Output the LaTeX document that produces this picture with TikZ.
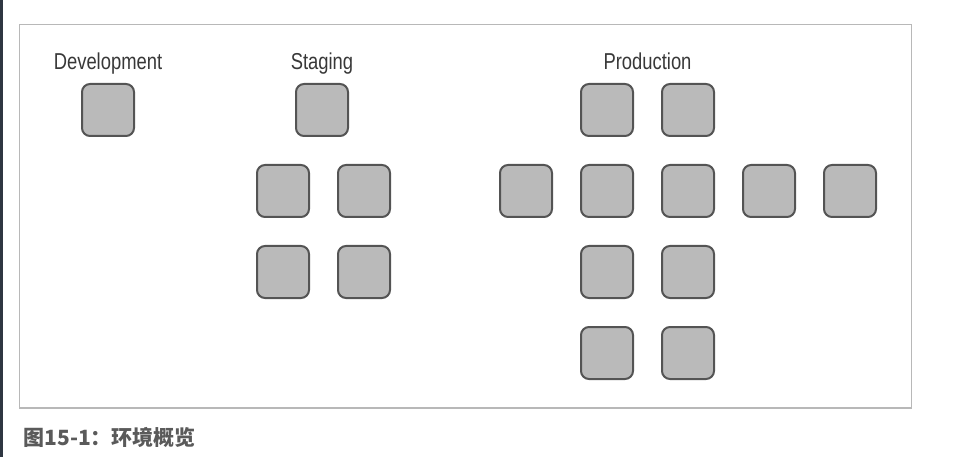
\documentclass[tikz,border=0pt]{standalone}
\usepackage{fontspec}
\setmainfont{Liberation Sans}[FakeStretch=0.8]
\newfontfamily\cjk{Noto Sans CJK SC}
\usepackage{tikz}
\definecolor{boxfill}{HTML}{BABABA}
\definecolor{boxline}{HTML}{545454}
\definecolor{framegray}{HTML}{B8B8B8}
\definecolor{labelgray}{HTML}{383838}
\definecolor{captiongray}{HTML}{5A5A5A}
\definecolor{edgedark}{HTML}{2E3641}
\pgfmathsetmacro{\pitch}{81}

\begin{document}
\begin{tikzpicture}[x=1pt, y=-1pt,
		server/.style={draw=boxline, fill=boxfill, line width=2pt, rounded corners=8pt, minimum size=52pt, inner sep=0pt},
		envlabel/.style={anchor=base, text=labelgray, font=\fontsize{23}{23}\selectfont}]
		\useasboundingbox (0,0) rectangle (964,457);
		\fill[edgedark] (0,0) rectangle (2.5,457);
		\draw[framegray, line width=1.5pt] (19.5,24.5) rectangle (911.5,408);
		\node[envlabel] (devlabel) at (108,70) {Development};
		\node[envlabel] (stglabel) at (322,70) {Staging};
		\node[envlabel] (prodlabel) at (647.5,70) {Production};
		\node[server] (dev) at (108,110) {};
		\node[server] (stg) at (322,110) {};
		\foreach \c in {0,1}
			\foreach \r in {1,2}
				\node[server] (stg-\c-\r) at ({283+\pitch*\c},{110+\pitch*\r}) {};
		\foreach \c in {0,1}
			\foreach \r in {0,2,3}
				\node[server] (prod-\c-\r) at ({607+\pitch*\c},{110+\pitch*\r}) {};
		\foreach \c in {0,...,4}
			\node[server] (prodrow-\c) at ({526+\pitch*\c},191) {};
		\node[anchor=west, text=captiongray, font=\cjk\bfseries\fontsize{21}{21}\selectfont] (caption) at (20,437) {图15-1：环境概览};
	\end{tikzpicture}
\end{document}
